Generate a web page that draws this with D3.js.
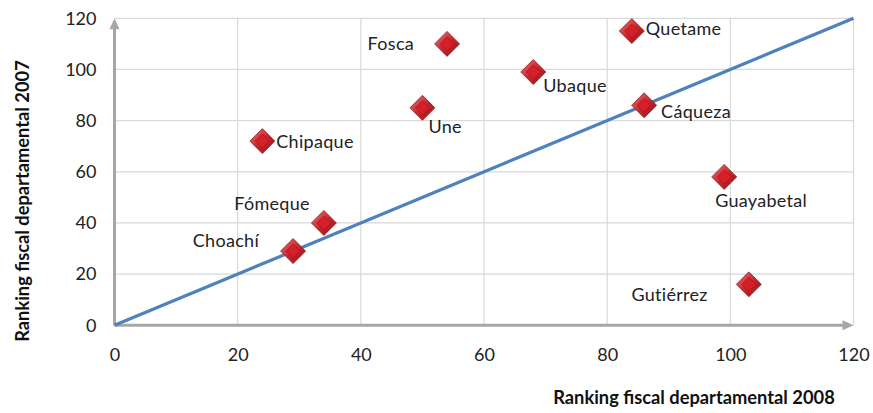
<!DOCTYPE html>
<html><head><meta charset="utf-8">
<script src="https://cdn.jsdelivr.net/npm/d3@7"></script>
<style>
body{margin:0;background:#fff;}
svg{display:block;font-family:"Lato","Open Sans",sans-serif;}
</style></head>
<body>
<svg id="c" width="873" height="413"></svg>
<script>
const names = ["Chipaque","Choachí","Fómeque","Une","Fosca","Ubaque","Quetame","Cáqueza","Guayabetal","Gutiérrez"];
const rank2008 = [24, 29, 34, 50, 54, 68, 84, 86, 99, 103];
const rank2007 = [72, 29, 40, 85, 110, 99, 115, 86, 58, 16];
// label placement: anchor, dx, dy
const labelPos = [["start",14,7],["end",-34,-4],["end",-14,-13],["start",6,25],["end",-33,6],["start",10,20],["start",14,4],["start",17,13],["start",-9,30],["end",-41,17]];
const ticks = [0,20,40,60,80,100,120];
const refLine = [[0,0],[120,120]];

const svg = d3.select("#c");
const x = d3.scaleLinear().domain([0,120]).range([114.5,853.5]);
const y = d3.scaleLinear().domain([0,120]).range([325.3,18.3]);

const defs = svg.append("defs");
const g1 = defs.append("linearGradient").attr("id","bev").attr("x1","0").attr("y1","0").attr("x2","1").attr("y2","1");
g1.append("stop").attr("offset","0").attr("stop-color","#e8787c");
g1.append("stop").attr("offset","0.5").attr("stop-color","#c8262e");
g1.append("stop").attr("offset","1").attr("stop-color","#8c1418");

// gridlines
svg.append("g").selectAll("line.v").data(ticks.slice(1)).join("line")
  .attr("x1",d=>x(d)).attr("x2",d=>x(d)).attr("y1",y(120)).attr("y2",y(0))
  .attr("stroke","#d9d9d9").attr("stroke-width",1.2);
svg.append("g").selectAll("line.h").data(ticks.slice(1)).join("line")
  .attr("y1",d=>y(d)).attr("y2",d=>y(d)).attr("x1",x(0)).attr("x2",x(120))
  .attr("stroke","#d9d9d9").attr("stroke-width",1.2);

// axes with arrows
const axC = "#a6a6a6";
svg.append("line").attr("x1",x(0)).attr("x2",x(120)-10).attr("y1",y(0)).attr("y2",y(0)).attr("stroke",axC).attr("stroke-width",3);
svg.append("path").attr("d",`M${x(120)},${y(0)} L${x(120)-11},${y(0)-5} L${x(120)-11},${y(0)+5}Z`).attr("fill",axC);
svg.append("line").attr("x1",x(0)).attr("x2",x(0)).attr("y1",y(0)).attr("y2",y(120)+10).attr("stroke",axC).attr("stroke-width",3);
svg.append("path").attr("d",`M${x(0)},${y(120)} L${x(0)-5},${y(120)+11} L${x(0)+5},${y(120)+11}Z`).attr("fill",axC);

// tick labels
const xAxis = d3.axisBottom(x).tickValues(ticks).tickSize(0).tickPadding(0);
const gx = svg.append("g").attr("transform",`translate(0,${y(0)+22})`).call(xAxis);
gx.select(".domain").remove();
gx.selectAll("text").attr("font-size",18).attr("fill","#222").attr("dy","0.75em").attr("font-family","Lato, sans-serif");
const yAxis = d3.axisLeft(y).tickValues(ticks).tickSize(0).tickPadding(0);
const gy = svg.append("g").attr("transform",`translate(${x(0)-18},0)`).call(yAxis);
gy.select(".domain").remove();
gy.selectAll("text").attr("font-size",18).attr("fill","#222").attr("font-family","Lato, sans-serif");

// titles
svg.append("text").attr("x",694).attr("y",404).attr("text-anchor","middle").attr("font-size",18.3).attr("font-weight","bold").attr("fill","#111").text("Ranking fiscal departamental 2008");
svg.append("text").attr("transform","translate(29,201) rotate(-90)").attr("text-anchor","middle").attr("font-size",18.3).attr("font-weight","bold").attr("fill","#111").text("Ranking fiscal departamental 2007");

// reference line
svg.append("path").datum(refLine).attr("d",d3.line().x(d=>x(d[0])).y(d=>y(d[1])))
  .attr("stroke","#4f81bd").attr("stroke-width",3.2).attr("fill","none");

// markers
const pts = names.map((n,i)=>({n, xv:rank2008[i], yv:rank2007[i], lp:labelPos[i]}));
const m = svg.append("g").selectAll("g").data(pts).join("g").attr("transform",d=>`translate(${x(d.xv)},${y(d.yv)})`);
const R=12.5, r=7;
m.append("path").attr("d",`M0,${-R} L${R},0 L0,${R} L${-R},0Z`).attr("fill","url(#bev)").attr("stroke","#9a1c20").attr("stroke-width",0.8);
m.append("path").attr("d",`M0,${-r} L${r},0 L0,${r} L${-r},0Z`).attr("fill","#d81e28").attr("stroke","#a0161c").attr("stroke-width",0.6);

// labels
svg.append("g").selectAll("text").data(pts).join("text")
  .attr("x",d=>x(d.xv)+d.lp[1]).attr("y",d=>y(d.yv)+d.lp[2])
  .attr("text-anchor",d=>d.lp[0]).attr("font-size",18).attr("letter-spacing",0.3).attr("fill","#222").text(d=>d.n);
</script>
</body></html>
